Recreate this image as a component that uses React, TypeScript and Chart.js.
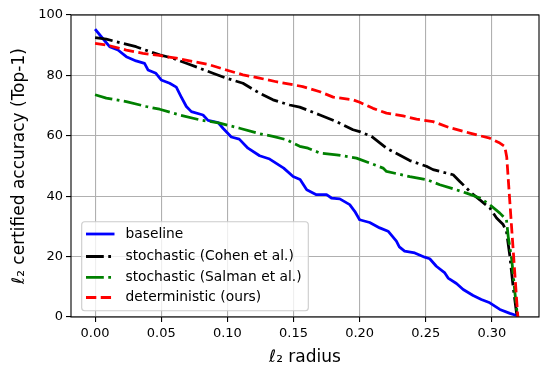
import React, { useEffect, useRef } from "react";
import { Chart, registerables } from "chart.js";

Chart.register(...registerables);

const xTicks = [0, 0.05, 0.1, 0.15, 0.2, 0.25, 0.3];
const yTicks = [0, 20, 40, 60, 80, 100];

const seriesNames = [
  "baseline",
  "stochastic (Cohen et al.)",
  "stochastic (Salman et al.)",
  "deterministic (ours)",
];

const baselineRadius = [0, 0.0047, 0.011, 0.0173, 0.0236, 0.031, 0.0374, 0.04, 0.046, 0.05, 0.0564, 0.0614, 0.065, 0.069, 0.0728, 0.0816, 0.0854, 0.093, 0.0967, 0.103, 0.109, 0.1156, 0.1244, 0.132, 0.1426, 0.1497, 0.155, 0.16, 0.1673, 0.175, 0.1787, 0.185, 0.1925, 0.1963, 0.2, 0.2076, 0.2152, 0.2215, 0.2278, 0.23, 0.234, 0.2417, 0.2492, 0.253, 0.258, 0.2644, 0.2669, 0.2732, 0.2783, 0.2858, 0.292, 0.2984, 0.306, 0.3136, 0.3186, 0.3198];
const baselineAcc = [95.3, 92.8, 89.5, 88.4, 86.2, 84.8, 84.0, 81.8, 80.7, 78.5, 77.4, 76.1, 73.0, 69.7, 68.0, 66.9, 65.1, 64.4, 62.5, 59.6, 58.9, 55.9, 53.4, 52.3, 49.3, 46.5, 45.5, 42.1, 40.5, 40.5, 39.4, 39.1, 37.2, 35.0, 32.2, 31.3, 29.5, 28.4, 25.1, 23.2, 21.8, 21.2, 19.8, 19.3, 16.8, 14.6, 12.9, 11.1, 9.1, 7.1, 5.8, 4.7, 2.5, 1.2, 0.5, 0];

const cohenRadius = [0, 0.0085, 0.021, 0.031, 0.0412, 0.0488, 0.0589, 0.069, 0.079, 0.0891, 0.0992, 0.1118, 0.1244, 0.1345, 0.1471, 0.1547, 0.17, 0.1825, 0.195, 0.2, 0.209, 0.2203, 0.2379, 0.2505, 0.2555, 0.2707, 0.2757, 0.2808, 0.2846, 0.2909, 0.2984, 0.3035, 0.3085, 0.311, 0.3136, 0.316, 0.3186, 0.3198];
const cohenAcc = [92.5, 92.0, 90.6, 89.5, 87.9, 86.8, 85.7, 84.0, 82.4, 80.7, 79.1, 77.4, 74.1, 71.9, 70.2, 69.5, 66.9, 64.7, 62.0, 61.4, 59.8, 55.9, 51.8, 49.9, 48.8, 47.1, 44.9, 42.7, 41.0, 38.8, 36.1, 32.8, 30.6, 28.4, 20.1, 10.2, 1.4, 0];

const salmanRadius = [0, 0.0085, 0.0236, 0.0387, 0.0488, 0.0639, 0.079, 0.0942, 0.1093, 0.1244, 0.1345, 0.1446, 0.1496, 0.1547, 0.161, 0.17, 0.1825, 0.1976, 0.2076, 0.2177, 0.2203, 0.2379, 0.2505, 0.2606, 0.2732, 0.2808, 0.2909, 0.2984, 0.306, 0.311, 0.3123, 0.315, 0.3174, 0.3192, 0.3198];
const salmanAcc = [73.6, 72.5, 71.3, 69.7, 68.8, 66.9, 65.3, 64.2, 62.5, 60.7, 59.8, 58.7, 57.6, 56.5, 55.9, 54.3, 53.7, 52.6, 51.0, 49.3, 48.2, 46.5, 45.5, 43.8, 42.1, 41.0, 39.4, 37.2, 34.4, 32.2, 26.7, 19.0, 8.0, 0.8, 0];

const oursRadius = [0, 0.0085, 0.0236, 0.0362, 0.0488, 0.0614, 0.074, 0.0866, 0.0992, 0.1118, 0.1244, 0.137, 0.1496, 0.157, 0.17, 0.18, 0.195, 0.2, 0.2101, 0.2203, 0.2328, 0.243, 0.2555, 0.268, 0.2833, 0.2984, 0.306, 0.3097, 0.3112, 0.3196];
const oursAcc = [90.6, 90.1, 88.4, 87.3, 86.6, 85.7, 84.6, 83.5, 81.8, 80.2, 79.1, 77.9, 76.9, 76.3, 74.6, 72.8, 71.9, 71.1, 69.1, 67.5, 66.6, 65.5, 64.7, 62.7, 60.9, 59.2, 57.6, 56.5, 53.0, 0];

const FONT = "'DejaVu Sans', sans-serif";
const LW = 2.78;
const DASHED = [10.3, 4.45];
const DASHDOT = [17.8, 4.45, 2.78, 4.45];

export default function App() {
  const ref = useRef<HTMLCanvasElement>(null);

  useEffect(() => {
    const canvas = ref.current;
    if (!canvas) return;
    const pts = (xs: number[], ys: number[]) => xs.map((x, i) => ({ x, y: ys[i] }));

    const framePlugin = {
      id: "frame",
      afterDatasetsDraw(chart: any) {
        const { ctx, chartArea } = chart;
        ctx.save();
        ctx.strokeStyle = "#000000";
        ctx.lineWidth = 1.1;
        ctx.strokeRect(chartArea.left, chartArea.top, chartArea.right - chartArea.left, chartArea.bottom - chartArea.top);
        ctx.restore();
      },
    };

    const legendRows = [234, 256.5, 277.3, 297.5];
    const legendPlugin = {
      id: "mplLegend",
      afterDraw(chart: any) {
        const ctx = chart.ctx as CanvasRenderingContext2D;
        const x0 = 81.7, y0 = 221.7, w = 226.6, h = 89, r = 3;
        ctx.save();
        ctx.beginPath();
        ctx.moveTo(x0 + r, y0);
        ctx.lineTo(x0 + w - r, y0);
        ctx.quadraticCurveTo(x0 + w, y0, x0 + w, y0 + r);
        ctx.lineTo(x0 + w, y0 + h - r);
        ctx.quadraticCurveTo(x0 + w, y0 + h, x0 + w - r, y0 + h);
        ctx.lineTo(x0 + r, y0 + h);
        ctx.quadraticCurveTo(x0, y0 + h, x0, y0 + h - r);
        ctx.lineTo(x0, y0 + r);
        ctx.quadraticCurveTo(x0, y0, x0 + r, y0);
        ctx.closePath();
        ctx.fillStyle = "rgba(255,255,255,0.8)";
        ctx.fill();
        ctx.strokeStyle = "#cccccc";
        ctx.lineWidth = 1.1;
        ctx.stroke();
        chart.data.datasets.forEach((ds: any, i: number) => {
          const y = legendRows[i];
          ctx.beginPath();
          ctx.setLineDash(ds.borderDash || []);
          ctx.lineCap = "butt";
          ctx.strokeStyle = ds.borderColor;
          ctx.lineWidth = LW;
          ctx.moveTo(86, y);
          ctx.lineTo(114.5, y);
          ctx.stroke();
          ctx.setLineDash([]);
          ctx.fillStyle = "#000000";
          ctx.font = `13.8px ${FONT}`;
          ctx.textBaseline = "middle";
          ctx.textAlign = "left";
          ctx.fillText(ds.label, 125.5, y);
        });
        ctx.restore();
      },
    };

    const mk = (label: string, data: any[], color: string, dash: number[], order: number) => ({
      label,
      data,
      borderColor: color,
      backgroundColor: color,
      borderWidth: LW,
      borderDash: dash,
      borderCapStyle: "butt",
      borderJoinStyle: "round",
      pointRadius: 0,
      pointHoverRadius: 0,
      tension: 0,
      fill: false,
      order,
    });

    const chart = new Chart(canvas, {
      type: "line",
      data: {
        datasets: [
          mk(seriesNames[0], pts(baselineRadius, baselineAcc), "#0000ff", [], 4),
          mk(seriesNames[1], pts(cohenRadius, cohenAcc), "#000000", DASHDOT, 3),
          mk(seriesNames[2], pts(salmanRadius, salmanAcc), "#008000", DASHDOT, 2),
          mk(seriesNames[3], pts(oursRadius, oursAcc), "#ff0000", DASHED, 1),
        ] as any,
      },
      options: {
        animation: false,
        responsive: false,
        devicePixelRatio: 1,
        layout: { padding: { top: 15, right: 9, left: 0, bottom: 0 } },
        plugins: {
          legend: { display: false },
          tooltip: { enabled: false },
        },
        scales: {
          x: {
            type: "linear",
            min: -0.0182,
            max: 0.3356,
            afterBuildTicks: (s: any) => {
              s.ticks = xTicks.map((v) => ({ value: v }));
            },
            afterFit: (s: any) => {
              s.height = 60;
            },
            grid: {
              color: "#b0b0b0",
              lineWidth: 1.1,
              drawTicks: true,
              tickLength: 5,
              tickColor: "#000000",
              tickWidth: 1.1,
            },
            border: { display: false },
            ticks: {
              autoSkip: false,
              maxRotation: 0,
              padding: 4,
              color: "#000000",
              font: { family: FONT, size: 13 },
              callback: (v: any) => Number(v).toFixed(2),
            },
            title: {
              display: true,
              text: "ℓ₂ radius",
              color: "#000000",
              font: { family: FONT, size: 17 },
              padding: { top: 0, bottom: 9 },
            },
          },
          y: {
            type: "linear",
            min: 0,
            max: 100,
            afterBuildTicks: (s: any) => {
              s.ticks = yTicks.map((v) => ({ value: v }));
            },
            afterFit: (s: any) => {
              s.width = 71;
            },
            grid: {
              color: "#b0b0b0",
              lineWidth: 1.1,
              drawTicks: true,
              tickLength: 5,
              tickColor: "#000000",
              tickWidth: 1.1,
            },
            border: { display: false },
            ticks: {
              padding: 3,
              color: "#000000",
              font: { family: FONT, size: 13 },
              callback: (v: any) => String(v),
            },
            title: {
              display: true,
              text: "ℓ₂ certified accuracy (Top-1)",
              color: "#000000",
              font: { family: FONT, size: 17 },
              padding: { top: 9, bottom: 0 },
            },
          },
        },
      },
      plugins: [framePlugin, legendPlugin],
    });

    return () => chart.destroy();
  }, []);

  return (
    <div style={{ position: "fixed", left: 0, top: 0, width: 548, height: 377, background: "#ffffff" }}>
      <canvas ref={ref} width={548} height={377} style={{ width: 548, height: 377, display: "block" }} />
    </div>
  );
}
